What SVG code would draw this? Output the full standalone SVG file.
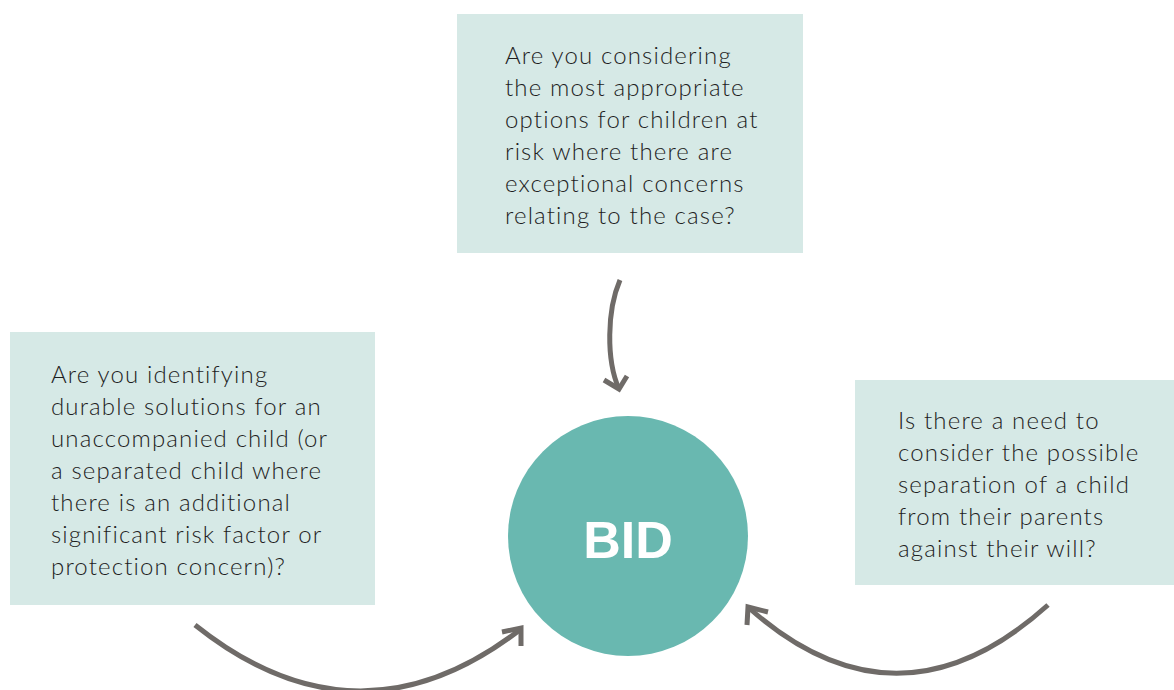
<svg xmlns="http://www.w3.org/2000/svg" width="1174" height="690" viewBox="0 0 1174 690">
<style>
.box{fill:#d6e9e6}
.t{font-family:Lato,"Liberation Sans",sans-serif;font-weight:300;font-size:24px;letter-spacing:1.15px;fill:#1e1e1e}
.arr{fill:none;stroke:#6f6b68;stroke-width:5}
</style>
<rect width="1174" height="690" fill="#ffffff"/>
<g id="top">
<rect class="box" x="457" y="14" width="346" height="239"/>
<text class="t" x="505"><tspan x="505" y="64">Are you considering</tspan><tspan x="505" y="96">the most appropriate</tspan><tspan x="505" y="128">options for children at</tspan><tspan x="505" y="160">risk where there are</tspan><tspan x="505" y="192">exceptional concerns</tspan><tspan x="505" y="224">relating to the case?</tspan></text>
</g>
<g id="left">
<rect class="box" x="10" y="332" width="365" height="273"/>
<text class="t"><tspan x="51" y="383">Are you identifying</tspan><tspan x="51" y="415">durable solutions for an</tspan><tspan x="51" y="447">unaccompanied child (or</tspan><tspan x="51" y="479">a separated child where</tspan><tspan x="51" y="511">there is an additional</tspan><tspan x="51" y="543">significant risk factor or</tspan><tspan x="51" y="575">protection concern)?</tspan></text>
</g>
<g id="right">
<rect class="box" x="855" y="380" width="319" height="205"/>
<text class="t"><tspan x="898" y="429">Is there a need to</tspan><tspan x="898" y="461">consider the possible</tspan><tspan x="898" y="493">separation of a child</tspan><tspan x="898" y="525">from their parents</tspan><tspan x="898" y="557">against their will?</tspan></text>
</g>
<g id="bid">
<circle cx="628" cy="536" r="120" fill="#69b8b0"/>
<text x="628" y="558" text-anchor="middle" font-family="'Liberation Sans',Arial,sans-serif" font-weight="bold" font-size="52" fill="#ffffff">BID</text>
</g>
<g id="connectors">
<path class="arr" d="M620,280 C607,310 606,360 619,389"/>
<polyline class="arr" points="604,380 619,389 627,376"/>
<path class="arr" d="M195,625 Q358,755 521,629"/>
<polyline class="arr" points="502,632 521,628 521,646"/>
<path class="arr" d="M1048,605 Q898,740 749,608"/>
<polyline class="arr" points="768,612 748,607 747,625"/>
</g>
</svg>
